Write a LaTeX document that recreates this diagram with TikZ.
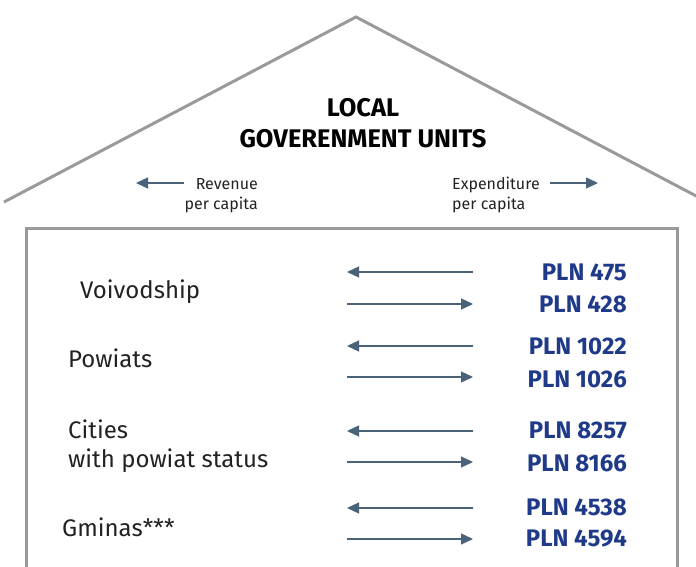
\documentclass[tikz,border=0pt]{standalone}
\usepackage{fontspec}
\setmainfont{Fira Sans}
\usetikzlibrary{arrows.meta}
\definecolor{housegray}{HTML}{9A9A9A}
\definecolor{arrowslate}{HTML}{4A6378}
\definecolor{plnblue}{HTML}{1F3A88}
\definecolor{labeltext}{HTML}{222222}
\tikzset{
  house/.style={draw=housegray, line width=3pt, line join=miter},
  flow/.style={draw=arrowslate, line width=1.3pt, -{Triangle[length=12pt,width=11pt]}},
  legendflow/.style={draw=arrowslate, line width=1.3pt, -{Triangle[length=12pt,width=11pt]}},
  title/.style={font=\fontsize{25.5}{30}\selectfont\bfseries, text=black, anchor=base, inner sep=0pt},
  legend/.style={font=\fontsize{16}{20}\selectfont, text=labeltext, inner sep=0pt},
  unit/.style={font=\fontsize{24}{29}\selectfont, text=labeltext, anchor=base west, inner sep=0pt},
  pln/.style={font=\fontsize{24}{24}\selectfont\bfseries, text=plnblue, anchor=base east, inner sep=0pt}
}
\begin{document}
\begin{tikzpicture}[x=1pt,y=-1pt]
\useasboundingbox (0,0) rectangle (696,567);
% roof
\draw[house] (4,202) -- (356,17) -- (700,198);
% walls
\draw[house] (26,570) -- (26,228) -- (677,228) -- (677,570);
% title
\node[title] (t1) at (363,117) {LOCAL};
\node[title] (t2) at (363,148) {GOVERENMENT UNITS};
% legend
\node[legend, anchor=base east] (rev1) at (258,189) {Revenue};
\node[legend, anchor=base east] (rev2) at (258,209) {per capita};
\node[legend, anchor=base west] (exp1) at (452,189) {Expenditure};
\node[legend, anchor=base west] (exp2) at (452,209) {per capita};
\coordinate (ra) at (184,183);
\coordinate (rb) at (136,183);
\coordinate (ea) at (550,183);
\coordinate (eb) at (598,183);
\draw[legendflow] (ra) -- (rb);
\draw[legendflow] (ea) -- (eb);
% unit labels
\node[unit] (voi) at (80,298) {Voivodship};
\node[unit] (pow) at (68,367) {Powiats};
\node[unit] (cit1) at (68,438) {Cities};
\node[unit] (cit2) at (68,467) {with powiat status};
\node[unit] (gmi) at (62,536) {Gminas***};
% arrows
\foreach \n/\y in {a/272,b/346,c/431,d/508}{
  \coordinate (l\n R) at (473,\y);
  \coordinate (l\n L) at (347,\y);
  \draw[flow] (l\n R) -- (l\n L);
}
\foreach \n/\y in {a/304,b/377,c/462,d/539}{
  \coordinate (r\n L) at (347,\y);
  \coordinate (r\n R) at (473,\y);
  \draw[flow] (r\n L) -- (r\n R);
}
% values
\node[pln] (p1) at (627,280) {PLN 475};
\node[pln] (p2) at (627,312) {PLN 428};
\node[pln] (p3) at (627,354) {PLN 1022};
\node[pln] (p4) at (627,387) {PLN 1026};
\node[pln] (p5) at (627,438) {PLN 8257};
\node[pln] (p6) at (627,471) {PLN 8166};
\node[pln] (p7) at (627,515) {PLN 4538};
\node[pln] (p8) at (627,546) {PLN 4594};
\end{tikzpicture}
\end{document}
